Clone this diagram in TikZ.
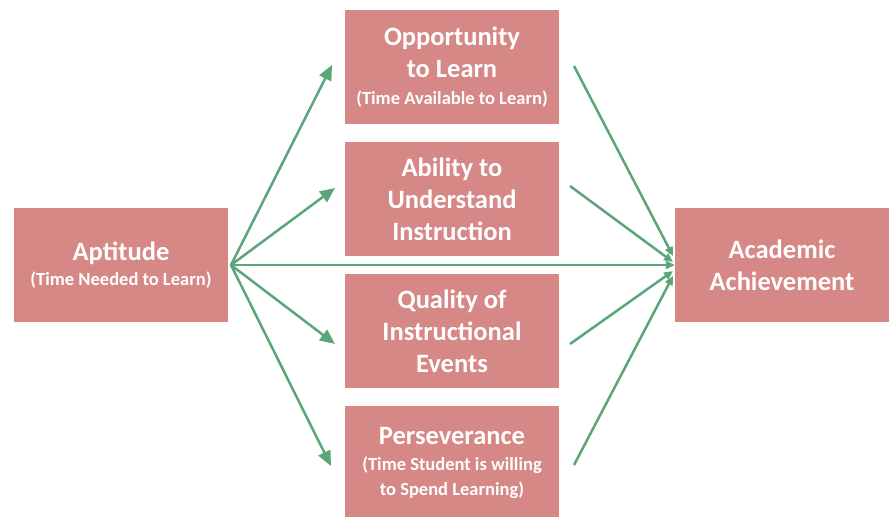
\documentclass[tikz,border=0pt]{standalone}
\usepackage{fontspec}
\setmainfont{Carlito}
\usetikzlibrary{arrows.meta}

\definecolor{boxred}{HTML}{D68886}
\definecolor{arrowgreen}{HTML}{5BA678}

\newcommand{\aside}[1]{{\fontsize{18.5}{22}\selectfont #1}}

\tikzset{
  factor/.style={fill=boxred,text=white,align=center,inner sep=0pt,
    minimum width=214pt,minimum height=114pt,font=\bfseries\fontsize{26.5}{32}\selectfont},
  bigarrow/.style={draw=arrowgreen,line width=2.5pt,-{Triangle[length=15pt,width=13pt]}},
  smallarrow/.style={draw=arrowgreen,line width=2.5pt,-{Triangle[length=9pt,width=8pt]}}
}

\begin{document}
\begin{tikzpicture}[x=1pt,y=-1pt]
\useasboundingbox (0,0) rectangle (895,517);

% boxes
\node[factor] (apt) at (121,265) {Aptitude\\[-7.5pt]\aside{(Time Needed to Learn)}};
\node[factor] (opp) at (452,67) {Opportunity\\to Learn\\[-5.5pt]\aside{(Time Available to Learn)}};
\node[factor] (abil) at (452,199) {Ability to\\Understand\\Instruction};
\node[factor] (qual) at (452,331) {Quality of\\Instructional\\Events};
\node[factor] (pers) at (452,463) {Perseverance\\[-6.5pt]\aside{(Time Student is willing}\\[-7pt]\aside{to Spend Learning)}};
\node[factor] (ach) at (782,265) {Academic\\Achievement};

% arrow ends
\coordinate (src) at (231,265);
\coordinate (t1) at (332,65);
\coordinate (t2) at (335,188);
\coordinate (t3) at (335,344);
\coordinate (t4) at (331,466);
\coordinate (s1) at (574,66);
\coordinate (s2) at (570,186);
\coordinate (s3) at (570,344);
\coordinate (s4) at (574,465);
\coordinate (e1) at (673,256);
\coordinate (e2) at (673,262);
\coordinate (e3) at (673,271);
\coordinate (e4) at (673,276);

% arrows out of aptitude
\draw[bigarrow] (src) -- (t1);
\draw[bigarrow] (src) -- (t2);
\draw[bigarrow] (src) -- (t3);
\draw[bigarrow] (src) -- (t4);
\draw[smallarrow] (src) -- (ach.west);

% arrows into achievement
\draw[smallarrow] (s1) -- (e1);
\draw[smallarrow] (s2) -- (e2);
\draw[smallarrow] (s3) -- (e3);
\draw[smallarrow] (s4) -- (e4);
\end{tikzpicture}
\end{document}
